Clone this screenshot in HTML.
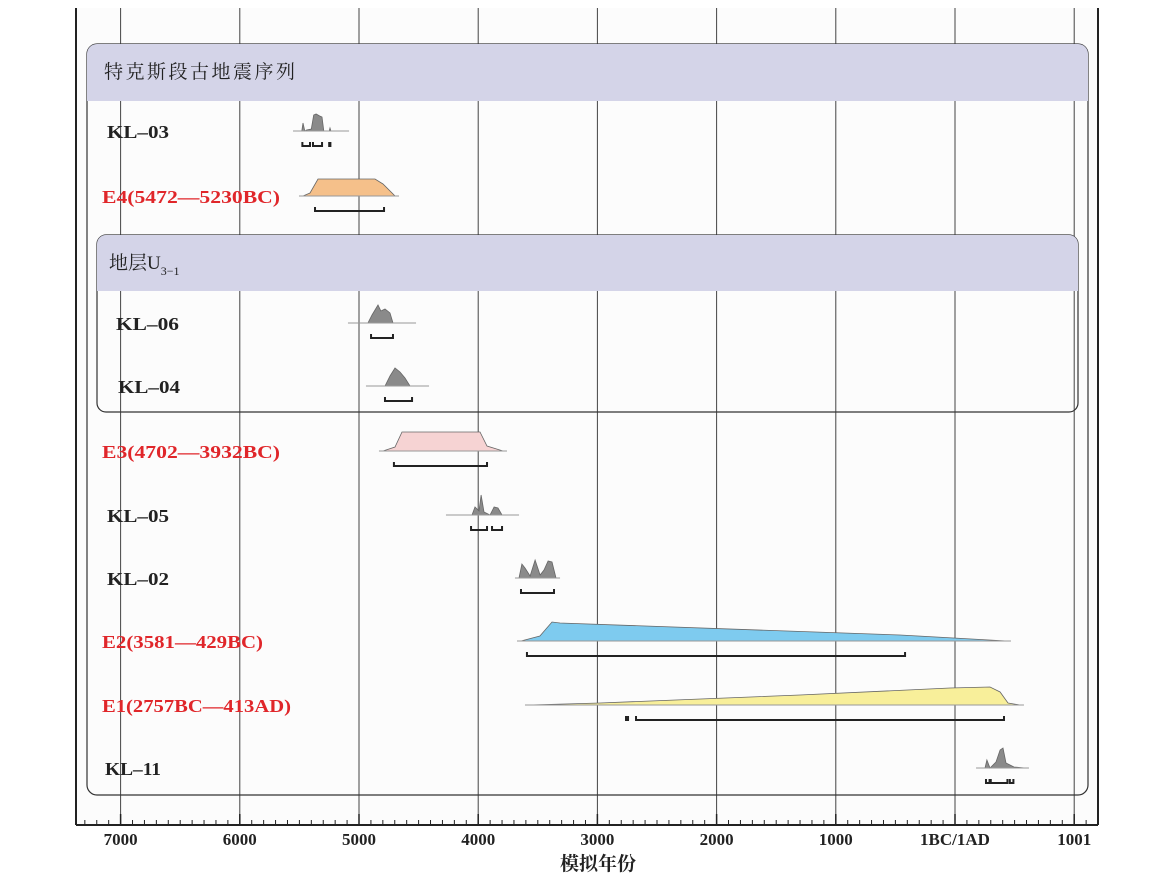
<!DOCTYPE html>
<html><head><meta charset="utf-8"><style>
body{margin:0;background:#fff;width:1166px;height:887px;overflow:hidden}
svg{display:block}
.lbl{font-family:"Liberation Serif","Noto Serif CJK SC",serif;font-weight:bold;font-size:18px;fill:#222}
.red{fill:#e0262a;font-weight:bold}
.hdr{font-family:"Liberation Serif","Noto Serif CJK SC",serif;font-size:19px;fill:#222}
.tick{font-family:"Liberation Serif",serif;font-size:17px;font-weight:bold;fill:#222}
</style></head><body>
<svg id="c" width="1166" height="887" xmlns="http://www.w3.org/2000/svg">
<rect x="76" y="8" width="1022" height="817" fill="#fcfcfc"/>
<g id="grid"></g>
<rect x="87" y="44" width="1001" height="751" rx="10" fill="none" stroke="#333" stroke-width="1.2"/>
<path d="M87,54 a10,10 0 0 1 10,-10 H1078 a10,10 0 0 1 10,10 V101 H87 Z" fill="#d4d4e8"/>
<text x="104" y="78" class="hdr" textLength="191">特克斯段古地震序列</text>
<rect x="97" y="235" width="981" height="177" rx="9" fill="none" stroke="#333" stroke-width="1.2"/>
<path d="M97,244 a9,9 0 0 1 9,-9 H1069 a9,9 0 0 1 9,9 V291 H97 Z" fill="#d4d4e8"/>
<text x="109" y="269" class="hdr">地层U<tspan font-size="12" dy="6">3−1</tspan></text>
<g id="marks"></g>
<line x1="76" y1="8" x2="76" y2="825" stroke="#222" stroke-width="2"/>
<line x1="1098" y1="8" x2="1098" y2="825" stroke="#222" stroke-width="2"/>
<line x1="76" y1="825" x2="1098" y2="825" stroke="#222" stroke-width="2"/>
<g id="axis"></g>
<text x="598" y="870" text-anchor="middle" class="hdr" font-weight="bold">模拟年份</text>
</svg>
<script>
const tickYears=[-7000,-6000,-5000,-4000,-3000,-2000,-1000,0,1000];
const tickLabels=["7000","6000","5000","4000","3000","2000","1000","1BC/1AD","1001"];
const rowNames=["KL–03","E4(5472—5230BC)","KL–06","KL–04","E3(4702—3932BC)","KL–05","KL–02","E2(3581—429BC)","E1(2757BC—413AD)","KL–11"];
const rowIsEvent=[false,true,false,false,true,false,false,true,true,false];
const rowBase=[131,196,323,386,451,515,578,641,705,768];
const rowLabelX=[107,102,116,118,102,107,107,102,102,105];
const rowLabelW=[62,178,63,62,178,62,62,161,189,56];
const rowFill=["#8a8a8a","#f5c08a","#8a8a8a","#8a8a8a","#f6d3d3","#8a8a8a","#8a8a8a","#7ecbef","#f8ef9a","#8a8a8a"];
const distYears=[
[-5520,-5480,-5470,-5455,-5440,-5400,-5380,-5360,-5330,-5310,-5295,-5250,-5243,-5236,-5117],
[-5470,-5411,-5344,-4866,-4799,-4698],
[-5059,-4925,-4891,-4841,-4816,-4782,-4740,-4715,-4555],
[-4908,-4782,-4740,-4698,-4656,-4614,-4572,-4446],
[-4799,-4698,-4639,-3985,-3926,-3792],
[-4237,-4052,-4027,-3993,-3976,-3951,-3901,-3867,-3834,-3800,-3691],
[-3658,-3633,-3607,-3565,-3523,-3481,-3448,-3414,-3381,-3347],
[-3641,-3482,-3381,-3314,-461,436],
[-3574,-2978,-1300,-42,294,378,445,545],
[210,252,268,294,344,378,403,428,461,495,587]];
const distDens=[
[0,0,8,0,1,2,16,17,15,14,0,0,3,0,0],
[0,3,17,17,12,0],
[0,0,8,18,12,14,10,0,0],
[0,0,10,18,14,8,0,0],
[0,4,19,19,5,0],
[0,0,8,4,20,3,0,8,7,0,0],
[0,14,10,2,18,3,8,17,16,0],
[0,5,19,18,6,0],
[0,2,10,17,18,13,2,0],
[0,0,8,0,6,18,20,5,3,1,0]];
const rangeStart=[[-5475,-5386,-5250],[-5369],[-4899],[-4782],[-4707],[-4060,-3884],[-3641],[-3591],[-2760,-2676],[260,300,460]];
const rangeEnd=[[-5411,-5310,-5240],[-4790],[-4715],[-4555],[-3926],[-3926,-3800],[-3364],[-419],[-2743,411],[290,440,490]];

const NS="http://www.w3.org/2000/svg";
const x=t=>955+t*0.1192;
function mk(tag,at,parent){const e=document.createElementNS(NS,tag);for(const k in at)e.setAttribute(k,at[k]);parent.appendChild(e);return e;}
const grid=document.getElementById('grid'),axis=document.getElementById('axis'),marks=document.getElementById('marks');
tickYears.forEach((t,i)=>{
  const g=mk('line',{x1:x(t),x2:x(t),y1:8,y2:825,stroke:'#444','stroke-width':1},grid);
  
  
  const tx=mk('text',{x:x(t),y:845,'text-anchor':'middle',class:'tick'},axis);tx.textContent=tickLabels[i];
  
  
});
for(let t=-7300;t<=1100;t+=100){
  const major=t%1000===0;const xx=x(t);if(xx<77||xx>1097)continue;
  const l=mk('line',{x1:xx,x2:xx,y1:825,y2:major?814:820,stroke:'#222','stroke-width':major?1.5:1},axis);
  
  
}
rowNames.forEach((n,i)=>{
  const b=rowBase[i];
  const tx=mk('text',{x:rowLabelX[i],y:b+7,class:'lbl'+(rowIsEvent[i]?' red':''),textLength:rowLabelW[i],lengthAdjust:'spacingAndGlyphs'},marks);tx.textContent=n;
  
  
  const ys=distYears[i],ds=distDens[i];
  let d='M'+x(ys[0])+','+b;
  ys.forEach((t,j)=>{d+=' L'+x(t).toFixed(1)+','+(b-ds[j]);});
  d+=' L'+x(ys[ys.length-1])+','+b+' Z';
  const p=mk('path',{d:d,fill:rowFill[i],stroke:'#666','stroke-width':0.8},marks);
  
  
  const bl=mk('line',{x1:x(ys[0])-4,x2:x(ys[ys.length-1])+4,y1:b,y2:b,stroke:'#999','stroke-width':1},marks);
  
  
  const ry=b+15;
  rangeStart[i].forEach((s,k)=>{
    const e=rangeEnd[i][k];const x1=x(s),x2=x(e);
    const r=mk('path',{d:`M${x1},${ry-4} V${ry} H${x2} V${ry-4}`,fill:'none',stroke:'#222','stroke-width':2},marks);
    
    
  });
});
</script>
</body></html>
